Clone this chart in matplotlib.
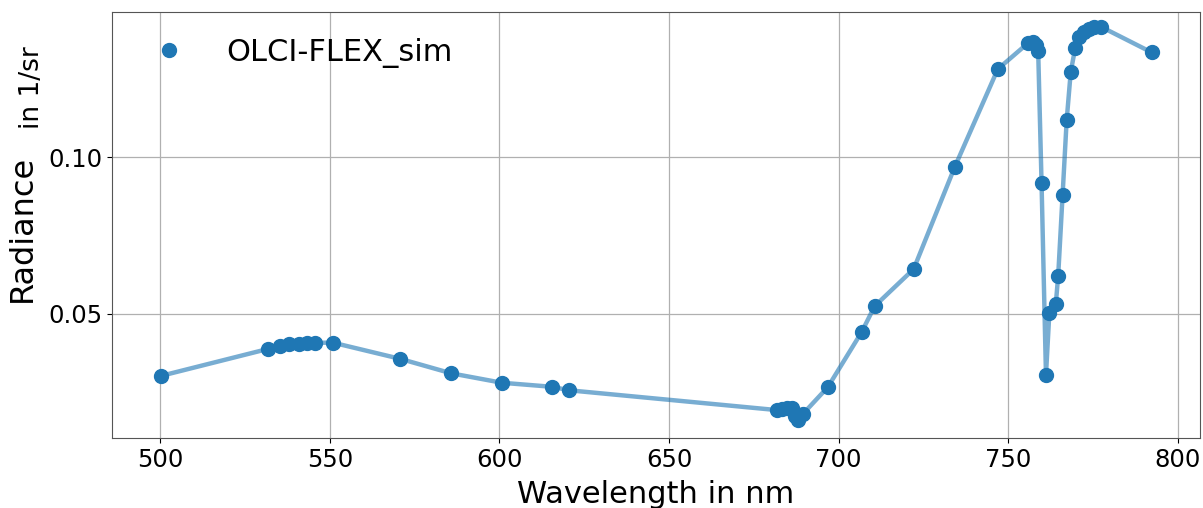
import matplotlib
matplotlib.use('Agg')
import matplotlib.pyplot as plt

wavelength = [500.3, 531.9, 535.4, 538.1, 540.8, 543.3, 545.7, 550.8, 570.8, 585.8,
              600.7, 615.6, 620.5, 681.7, 683.2, 684.7, 686.1, 687.0, 687.9, 689.4,
              696.8, 706.8, 710.6, 722.1, 734.2, 746.9, 755.7, 757.2, 758.1, 758.8,
              759.8, 761.1, 762.1, 764.0, 764.7, 766.0, 767.2, 768.4, 769.7, 770.9,
              772.3, 773.8, 775.3, 777.3, 792.3]
radiance = [0.0303, 0.0389, 0.0399, 0.0403, 0.0404, 0.0407, 0.0408, 0.0409, 0.0357, 0.0311,
            0.0281, 0.0268, 0.0257, 0.0194, 0.0197, 0.0201, 0.0201, 0.0175, 0.0162, 0.0181,
            0.0267, 0.0443, 0.0525, 0.0643, 0.0968, 0.1280, 0.1362, 0.1367, 0.1357, 0.1339,
            0.0916, 0.0306, 0.0504, 0.0532, 0.0622, 0.0879, 0.1117, 0.1271, 0.1346, 0.1383,
            0.1399, 0.1408, 0.1413, 0.1415, 0.1333]
label = 'OLCI-FLEX_sim'

fig = plt.figure(figsize=(12.03, 5.08), dpi=100)
ax = fig.add_axes([0.0931, 0.1378, 0.9044, 0.8386])

ax.plot(wavelength, radiance, color='#1f77b4', linewidth=3.2, alpha=0.6)
ax.plot(wavelength, radiance, 'o', color='#1f77b4', markersize=10, label=label)

ax.set_xlim(485.8, 806.5)
ax.set_ylim(0.0105, 0.1462)
ax.set_yticks([0.05, 0.10])
ax.set_xticks([500, 550, 600, 650, 700, 750, 800])
ax.tick_params(labelsize=17.5, colors='black')
ax.grid(True, color='#b0b0b0', linewidth=0.9)
for s in ax.spines.values():
    s.set_color('#555555')

ax.set_xlabel('Wavelength in nm', fontsize=22, labelpad=6)
# y label is split in two pieces of different size
fig.text(0.019, 0.55, 'Radiance', rotation=90, fontsize=23, ha='center', va='center')
fig.text(0.0265, 0.828, 'in 1/sr', rotation=90, fontsize=19, ha='center', va='center')

ax.legend(loc='upper left', fontsize=22, frameon=False, handletextpad=0.9,
          borderaxespad=0.4, borderpad=0.45)

fig.savefig('out.png', dpi=100)
